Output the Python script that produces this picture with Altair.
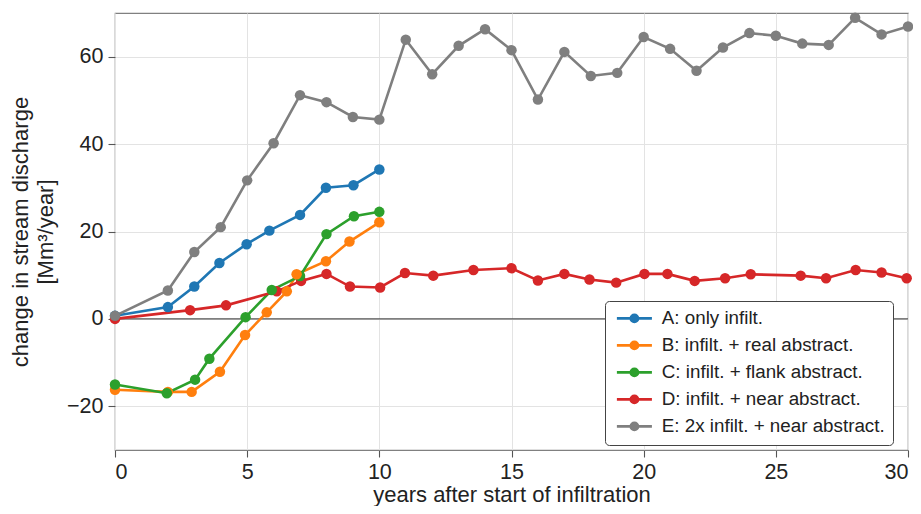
import altair as alt
import pandas as pd

labels = [
    "A: only infilt.",
    "B: infilt. + real abstract.",
    "C: infilt. + flank abstract.",
    "D: infilt. + near abstract.",
    "E: 2x infilt. + near abstract.",
]
colors = ["#1f77b4", "#ff7f0e", "#2ca02c", "#d62728", "#7f7f7f"]

a_x = [0, 2, 3, 3.95, 4.98, 5.84, 7.0, 7.98, 9.02, 10.0]
a_y = [0.7, 2.7, 7.4, 12.8, 17.1, 20.2, 23.8, 30.0, 30.6, 34.2]

b_x = [0, 2, 2.9, 3.97, 4.92, 5.74, 6.5, 6.87, 7.98, 8.87, 10.0]
b_y = [-16.2, -16.7, -16.7, -12.1, -3.7, 1.5, 6.3, 10.2, 13.2, 17.7, 22.1]

c_x = [0, 1.96, 3.03, 3.57, 4.94, 5.93, 7.0, 8.0, 9.04, 10.0]
c_y = [-15.0, -17.0, -13.9, -9.1, 0.4, 6.6, 9.8, 19.4, 23.5, 24.5]

d_x = [0, 2.84, 4.2, 6.12, 7.04, 8.0, 8.89, 10.03, 10.97, 12.04, 13.56, 15.0,
       16.0, 17.0, 17.95, 18.96, 20.03, 20.9, 21.93, 23.08, 24.05, 25.94,
       26.9, 28.02, 29.0, 29.95]
d_y = [0.0, 2.0, 3.1, 6.3, 8.7, 10.3, 7.4, 7.2, 10.5, 9.9, 11.2, 11.6,
       8.8, 10.3, 9.0, 8.3, 10.3, 10.3, 8.7, 9.3, 10.2, 9.9,
       9.3, 11.2, 10.6, 9.3]

e_x = [0, 2, 3, 4, 5, 6, 7, 8, 9, 10, 11, 12, 13, 14, 15, 16, 17, 18, 19,
       20, 21, 22, 23, 24, 25, 26, 27, 28, 29, 30]
e_y = [0.7, 6.5, 15.3, 21.0, 31.7, 40.2, 51.2, 49.6, 46.2, 45.6, 63.9, 56.0,
       62.5, 66.3, 61.5, 50.2, 61.1, 55.6, 56.3, 64.5, 61.8, 56.8, 62.1,
       65.4, 64.8, 63.0, 62.7, 68.9, 65.1, 66.9]

x_ticks = [0, 5, 10, 15, 20, 25, 30]
y_ticks = [-20, 0, 20, 40, 60]

rows = []
for lab, xs, ys in zip(labels, [a_x, b_x, c_x, d_x, e_x], [a_y, b_y, c_y, d_y, e_y]):
    for i, (xv, yv) in enumerate(zip(xs, ys)):
        rows.append({"series": lab, "x": xv, "y": yv, "order": i})
df = pd.DataFrame(rows)

FONT = "Liberation Sans"
TXT = "#222222"

xscale = alt.Scale(domain=[0, 30], nice=False, zero=False)
yscale = alt.Scale(domain=[-30, 70], nice=False, zero=False)

zero = alt.Chart(pd.DataFrame({"y": [0]})).mark_rule(
    color="#555555", strokeWidth=1.1
).encode(y=alt.Y("y:Q", scale=yscale))


def ring(r):
    return (f"M{-r},0 A{r},{r} 0 1,0 {r},0 A{r},{r} 0 1,0 {-r},0 Z ")


# symbol unit = 6 px (size 144): line +-17.5 px, dot radius ~5 px
legend_symbol = "M-2.92,0 L2.92,0 " + ring(0.2) + ring(0.6)

axis_common = dict(
    grid=True, gridColor="#e3e3e3", gridWidth=1, domain=False,
    tickColor="#555555", tickSize=7, tickWidth=1.1,
    labelFont=FONT, labelFontSize=21.5, labelColor=TXT,
    titleFont=FONT, titleFontSize=22, titleFontWeight="normal", titleColor=TXT,
)

base = alt.Chart(df).encode(
    x=alt.X("x:Q", scale=xscale,
            axis=alt.Axis(values=x_ticks, title="years after start of infiltration",
                          labelPadding=4, titleY=51, titleBaseline="alphabetic",
                          **axis_common)),
    y=alt.Y("y:Q", scale=yscale,
            axis=alt.Axis(values=y_ticks,
                          title=["change in stream discharge", "[Mm³/year]"],
                          labelPadding=5, titlePadding=9, titleLineHeight=25,
                          **axis_common)),
    order="order:Q",
)

lines = base.mark_line(strokeWidth=2.6).encode(
    color=alt.Color(
        "series:N",
        scale=alt.Scale(domain=labels, range=colors),
        legend=alt.Legend(
            title=None,
            orient="none",
            legendX=490,
            legendY=288,
            fillColor="white",
            strokeColor="#444444",
            cornerRadius=4,
            padding=8,
            symbolType=legend_symbol,
            symbolSize=144,
            symbolOffset=12,
            symbolStrokeWidth=2.6,
            symbolOpacity=1,
            labelFont=FONT,
            labelFontSize=18.8,
            labelColor=TXT,
            labelOffset=18,
            rowPadding=7,
            labelLimit=400,
        ),
    ),
)

points = base.mark_point(size=110, filled=True, opacity=1).encode(
    color=alt.Color("series:N", scale=alt.Scale(domain=labels, range=colors), legend=None),
)

chart = alt.layer(zero, lines, points).properties(
    width=793,
    height=437,
    autosize=alt.AutoSizeParams(type="none"),
    padding={"left": 107, "top": 5, "right": 5, "bottom": 56},
).configure_view(
    stroke="#808080", strokeWidth=1.2
)

chart.save("out.html", embed_options={"renderer": "svg", "actions": False})
